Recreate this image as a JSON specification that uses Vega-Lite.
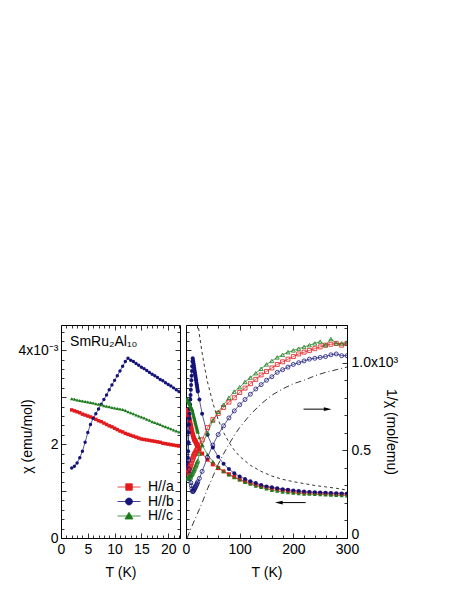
{
"$schema": "https://vega.github.io/schema/vega-lite/v6.json",
"background": "white",
"padding": {"left": 17, "top": 324, "right": 5, "bottom": 5},
"config": {
  "view": {"stroke": null},
  "font": "Liberation Sans",
  "axis": {"grid": false, "domainColor": "black", "domainWidth": 1, "tickColor": "black", "tickWidth": 0.8, "labelColor": "black", "titleColor": "black", "labelFont": "Liberation Sans", "titleFont": "Liberation Sans", "labelFontSize": 14, "titleFontSize": 14, "titleFontWeight": "normal", "labelFlush": false, "labelOverlap": false, "labelBound": false}
},
"datasets": {
  "chi": [
    {"T":2,"s":"H//a","chi":2.73},{"T":2.5,"s":"H//a","chi":2.71},{"T":3,"s":"H//a","chi":2.69},{"T":3.5,"s":"H//a","chi":2.67},{"T":4,"s":"H//a","chi":2.64},{"T":4.5,"s":"H//a","chi":2.62},{"T":5,"s":"H//a","chi":2.60},{"T":5.5,"s":"H//a","chi":2.58},{"T":6,"s":"H//a","chi":2.56},{"T":6.5,"s":"H//a","chi":2.53},{"T":7,"s":"H//a","chi":2.50},{"T":7.5,"s":"H//a","chi":2.48},{"T":8,"s":"H//a","chi":2.45},{"T":8.5,"s":"H//a","chi":2.42},{"T":9,"s":"H//a","chi":2.39},{"T":9.5,"s":"H//a","chi":2.37},{"T":10,"s":"H//a","chi":2.34},{"T":10.5,"s":"H//a","chi":2.31},{"T":11,"s":"H//a","chi":2.28},{"T":11.5,"s":"H//a","chi":2.26},{"T":12,"s":"H//a","chi":2.23},{"T":12.5,"s":"H//a","chi":2.21},{"T":13,"s":"H//a","chi":2.19},{"T":13.5,"s":"H//a","chi":2.17},{"T":14,"s":"H//a","chi":2.15},{"T":14.5,"s":"H//a","chi":2.13},{"T":15,"s":"H//a","chi":2.11},{"T":15.5,"s":"H//a","chi":2.10},{"T":16,"s":"H//a","chi":2.09},{"T":16.5,"s":"H//a","chi":2.08},{"T":17,"s":"H//a","chi":2.07},{"T":17.5,"s":"H//a","chi":2.06},{"T":18,"s":"H//a","chi":2.05},{"T":18.5,"s":"H//a","chi":2.04},{"T":19,"s":"H//a","chi":2.02},{"T":19.5,"s":"H//a","chi":2.01},{"T":20,"s":"H//a","chi":2.00},{"T":20.5,"s":"H//a","chi":1.99},{"T":21,"s":"H//a","chi":1.98},{"T":21.5,"s":"H//a","chi":1.97},{"T":22,"s":"H//a","chi":1.96},
    {"T":25,"s":"H//a","chi":1.89},{"T":30,"s":"H//a","chi":1.80},{"T":40,"s":"H//a","chi":1.67},{"T":50,"s":"H//a","chi":1.57},{"T":60,"s":"H//a","chi":1.49},{"T":70,"s":"H//a","chi":1.42},{"T":80,"s":"H//a","chi":1.36},{"T":90,"s":"H//a","chi":1.30},{"T":100,"s":"H//a","chi":1.25},{"T":110,"s":"H//a","chi":1.21},{"T":120,"s":"H//a","chi":1.17},{"T":130,"s":"H//a","chi":1.14},{"T":140,"s":"H//a","chi":1.11},{"T":150,"s":"H//a","chi":1.08},{"T":160,"s":"H//a","chi":1.06},{"T":170,"s":"H//a","chi":1.04},{"T":180,"s":"H//a","chi":1.02},{"T":190,"s":"H//a","chi":1.01},{"T":200,"s":"H//a","chi":0.99},{"T":210,"s":"H//a","chi":0.98},{"T":220,"s":"H//a","chi":0.97},{"T":230,"s":"H//a","chi":0.965},{"T":240,"s":"H//a","chi":0.96},{"T":250,"s":"H//a","chi":0.955},{"T":260,"s":"H//a","chi":0.95},{"T":270,"s":"H//a","chi":0.945},{"T":280,"s":"H//a","chi":0.94},{"T":290,"s":"H//a","chi":0.935},{"T":300,"s":"H//a","chi":0.93},
    {"T":2,"s":"H//b","chi":1.49},{"T":2.5,"s":"H//b","chi":1.53},{"T":3,"s":"H//b","chi":1.60},{"T":3.5,"s":"H//b","chi":1.71},{"T":4,"s":"H//b","chi":1.85},{"T":4.5,"s":"H//b","chi":2.04},{"T":5,"s":"H//b","chi":2.25},{"T":5.5,"s":"H//b","chi":2.42},{"T":6,"s":"H//b","chi":2.55},{"T":6.5,"s":"H//b","chi":2.65},{"T":7,"s":"H//b","chi":2.75},{"T":7.5,"s":"H//b","chi":2.85},{"T":8,"s":"H//b","chi":2.95},{"T":8.5,"s":"H//b","chi":3.05},{"T":9,"s":"H//b","chi":3.16},{"T":9.5,"s":"H//b","chi":3.26},{"T":10,"s":"H//b","chi":3.36},{"T":10.5,"s":"H//b","chi":3.46},{"T":11,"s":"H//b","chi":3.56},{"T":11.5,"s":"H//b","chi":3.66},{"T":12,"s":"H//b","chi":3.76},{"T":12.5,"s":"H//b","chi":3.83},{"T":13,"s":"H//b","chi":3.79},{"T":13.5,"s":"H//b","chi":3.76},{"T":14,"s":"H//b","chi":3.72},{"T":14.5,"s":"H//b","chi":3.68},{"T":15,"s":"H//b","chi":3.64},{"T":15.5,"s":"H//b","chi":3.61},{"T":16,"s":"H//b","chi":3.57},{"T":16.5,"s":"H//b","chi":3.53},{"T":17,"s":"H//b","chi":3.49},{"T":17.5,"s":"H//b","chi":3.46},{"T":18,"s":"H//b","chi":3.42},{"T":18.5,"s":"H//b","chi":3.38},{"T":19,"s":"H//b","chi":3.35},{"T":19.5,"s":"H//b","chi":3.31},{"T":20,"s":"H//b","chi":3.27},{"T":20.5,"s":"H//b","chi":3.24},{"T":21,"s":"H//b","chi":3.20},{"T":21.5,"s":"H//b","chi":3.16},{"T":22,"s":"H//b","chi":3.12},
    {"T":25,"s":"H//b","chi":2.95},{"T":30,"s":"H//b","chi":2.65},{"T":40,"s":"H//b","chi":2.20},{"T":50,"s":"H//b","chi":1.93},{"T":60,"s":"H//b","chi":1.73},{"T":70,"s":"H//b","chi":1.58},{"T":80,"s":"H//b","chi":1.47},{"T":90,"s":"H//b","chi":1.38},{"T":100,"s":"H//b","chi":1.31},{"T":110,"s":"H//b","chi":1.26},{"T":120,"s":"H//b","chi":1.21},{"T":130,"s":"H//b","chi":1.17},{"T":140,"s":"H//b","chi":1.13},{"T":150,"s":"H//b","chi":1.10},{"T":160,"s":"H//b","chi":1.08},{"T":170,"s":"H//b","chi":1.06},{"T":180,"s":"H//b","chi":1.04},{"T":190,"s":"H//b","chi":1.03},{"T":200,"s":"H//b","chi":1.01},{"T":210,"s":"H//b","chi":1.00},{"T":220,"s":"H//b","chi":0.99},{"T":230,"s":"H//b","chi":0.98},{"T":240,"s":"H//b","chi":0.975},{"T":250,"s":"H//b","chi":0.97},{"T":260,"s":"H//b","chi":0.965},{"T":270,"s":"H//b","chi":0.96},{"T":280,"s":"H//b","chi":0.955},{"T":290,"s":"H//b","chi":0.95},{"T":300,"s":"H//b","chi":0.95},
    {"T":2,"s":"H//c","chi":2.97},{"T":2.5,"s":"H//c","chi":2.96},{"T":3,"s":"H//c","chi":2.94},{"T":3.5,"s":"H//c","chi":2.93},{"T":4,"s":"H//c","chi":2.92},{"T":4.5,"s":"H//c","chi":2.91},{"T":5,"s":"H//c","chi":2.90},{"T":5.5,"s":"H//c","chi":2.89},{"T":6,"s":"H//c","chi":2.88},{"T":6.5,"s":"H//c","chi":2.86},{"T":7,"s":"H//c","chi":2.85},{"T":7.5,"s":"H//c","chi":2.84},{"T":8,"s":"H//c","chi":2.82},{"T":8.5,"s":"H//c","chi":2.81},{"T":9,"s":"H//c","chi":2.80},{"T":9.5,"s":"H//c","chi":2.78},{"T":10,"s":"H//c","chi":2.77},{"T":10.5,"s":"H//c","chi":2.76},{"T":11,"s":"H//c","chi":2.75},{"T":11.5,"s":"H//c","chi":2.74},{"T":12,"s":"H//c","chi":2.72},{"T":12.5,"s":"H//c","chi":2.69},{"T":13,"s":"H//c","chi":2.67},{"T":13.5,"s":"H//c","chi":2.65},{"T":14,"s":"H//c","chi":2.62},{"T":14.5,"s":"H//c","chi":2.60},{"T":15,"s":"H//c","chi":2.58},{"T":15.5,"s":"H//c","chi":2.56},{"T":16,"s":"H//c","chi":2.53},{"T":16.5,"s":"H//c","chi":2.51},{"T":17,"s":"H//c","chi":2.48},{"T":17.5,"s":"H//c","chi":2.46},{"T":18,"s":"H//c","chi":2.44},{"T":18.5,"s":"H//c","chi":2.42},{"T":19,"s":"H//c","chi":2.39},{"T":19.5,"s":"H//c","chi":2.37},{"T":20,"s":"H//c","chi":2.35},{"T":20.5,"s":"H//c","chi":2.33},{"T":21,"s":"H//c","chi":2.30},{"T":21.5,"s":"H//c","chi":2.28},{"T":22,"s":"H//c","chi":2.26},
    {"T":25,"s":"H//c","chi":2.14},{"T":30,"s":"H//c","chi":1.98},{"T":40,"s":"H//c","chi":1.78},{"T":50,"s":"H//c","chi":1.63},{"T":60,"s":"H//c","chi":1.51},{"T":70,"s":"H//c","chi":1.42},{"T":80,"s":"H//c","chi":1.35},{"T":90,"s":"H//c","chi":1.29},{"T":100,"s":"H//c","chi":1.24},{"T":110,"s":"H//c","chi":1.19},{"T":120,"s":"H//c","chi":1.15},{"T":130,"s":"H//c","chi":1.11},{"T":140,"s":"H//c","chi":1.08},{"T":150,"s":"H//c","chi":1.05},{"T":160,"s":"H//c","chi":1.02},{"T":170,"s":"H//c","chi":1.00},{"T":180,"s":"H//c","chi":0.98},{"T":190,"s":"H//c","chi":0.97},{"T":200,"s":"H//c","chi":0.96},{"T":210,"s":"H//c","chi":0.95},{"T":220,"s":"H//c","chi":0.94},{"T":230,"s":"H//c","chi":0.935},{"T":240,"s":"H//c","chi":0.93},{"T":250,"s":"H//c","chi":0.925},{"T":260,"s":"H//c","chi":0.92},{"T":270,"s":"H//c","chi":0.915},{"T":280,"s":"H//c","chi":0.91},{"T":290,"s":"H//c","chi":0.905},{"T":300,"s":"H//c","chi":0.90}
  ],
  "inv": [
    {"T":2,"s":"H//a","inv":0.366},{"T":3,"s":"H//a","inv":0.372},{"T":4,"s":"H//a","inv":0.379},{"T":5,"s":"H//a","inv":0.385},{"T":6,"s":"H//a","inv":0.391},{"T":7,"s":"H//a","inv":0.400},{"T":8,"s":"H//a","inv":0.408},{"T":9,"s":"H//a","inv":0.418},{"T":10,"s":"H//a","inv":0.427},{"T":11,"s":"H//a","inv":0.439},{"T":12,"s":"H//a","inv":0.448},{"T":13,"s":"H//a","inv":0.457},{"T":14,"s":"H//a","inv":0.465},{"T":15,"s":"H//a","inv":0.474},{"T":16,"s":"H//a","inv":0.478},{"T":17,"s":"H//a","inv":0.483},{"T":18,"s":"H//a","inv":0.488},{"T":19,"s":"H//a","inv":0.495},{"T":20,"s":"H//a","inv":0.500},{"T":21,"s":"H//a","inv":0.505},{"T":22,"s":"H//a","inv":0.510},
    {"T":25,"s":"H//a","inv":0.53},{"T":30,"s":"H//a","inv":0.56},{"T":40,"s":"H//a","inv":0.63},{"T":50,"s":"H//a","inv":0.675},{"T":60,"s":"H//a","inv":0.71},{"T":70,"s":"H//a","inv":0.745},{"T":80,"s":"H//a","inv":0.775},{"T":90,"s":"H//a","inv":0.80},{"T":100,"s":"H//a","inv":0.83},{"T":110,"s":"H//a","inv":0.855},{"T":120,"s":"H//a","inv":0.88},{"T":130,"s":"H//a","inv":0.905},{"T":140,"s":"H//a","inv":0.93},{"T":150,"s":"H//a","inv":0.95},{"T":160,"s":"H//a","inv":0.97},{"T":170,"s":"H//a","inv":0.99},{"T":180,"s":"H//a","inv":1.005},{"T":190,"s":"H//a","inv":1.02},{"T":200,"s":"H//a","inv":1.035},{"T":210,"s":"H//a","inv":1.05},{"T":220,"s":"H//a","inv":1.06},{"T":230,"s":"H//a","inv":1.07},{"T":240,"s":"H//a","inv":1.08},{"T":250,"s":"H//a","inv":1.09},{"T":260,"s":"H//a","inv":1.10},{"T":270,"s":"H//a","inv":1.105},{"T":280,"s":"H//a","inv":1.11},{"T":290,"s":"H//a","inv":1.10},{"T":300,"s":"H//a","inv":1.11},
    {"T":2,"s":"H//b","inv":0.671},{"T":3,"s":"H//b","inv":0.625},{"T":4,"s":"H//b","inv":0.541},{"T":5,"s":"H//b","inv":0.444},{"T":6,"s":"H//b","inv":0.392},{"T":7,"s":"H//b","inv":0.364},{"T":8,"s":"H//b","inv":0.339},{"T":9,"s":"H//b","inv":0.316},{"T":10,"s":"H//b","inv":0.298},{"T":11,"s":"H//b","inv":0.281},{"T":12,"s":"H//b","inv":0.266},{"T":13,"s":"H//b","inv":0.264},{"T":14,"s":"H//b","inv":0.269},{"T":15,"s":"H//b","inv":0.275},{"T":16,"s":"H//b","inv":0.280},{"T":17,"s":"H//b","inv":0.287},{"T":18,"s":"H//b","inv":0.292},{"T":19,"s":"H//b","inv":0.299},{"T":20,"s":"H//b","inv":0.306},{"T":21,"s":"H//b","inv":0.313},{"T":22,"s":"H//b","inv":0.321},
    {"T":25,"s":"H//b","inv":0.34},{"T":30,"s":"H//b","inv":0.38},{"T":40,"s":"H//b","inv":0.46},{"T":50,"s":"H//b","inv":0.53},{"T":60,"s":"H//b","inv":0.59},{"T":70,"s":"H//b","inv":0.64},{"T":80,"s":"H//b","inv":0.685},{"T":90,"s":"H//b","inv":0.725},{"T":100,"s":"H//b","inv":0.76},{"T":110,"s":"H//b","inv":0.79},{"T":120,"s":"H//b","inv":0.82},{"T":130,"s":"H//b","inv":0.85},{"T":140,"s":"H//b","inv":0.875},{"T":150,"s":"H//b","inv":0.90},{"T":160,"s":"H//b","inv":0.92},{"T":170,"s":"H//b","inv":0.945},{"T":180,"s":"H//b","inv":0.96},{"T":190,"s":"H//b","inv":0.975},{"T":200,"s":"H//b","inv":0.99},{"T":210,"s":"H//b","inv":1.00},{"T":220,"s":"H//b","inv":1.01},{"T":230,"s":"H//b","inv":1.02},{"T":240,"s":"H//b","inv":1.025},{"T":250,"s":"H//b","inv":1.03},{"T":260,"s":"H//b","inv":1.035},{"T":270,"s":"H//b","inv":1.045},{"T":280,"s":"H//b","inv":1.05},{"T":290,"s":"H//b","inv":1.04},{"T":300,"s":"H//b","inv":1.04},
    {"T":2,"s":"H//c","inv":0.337},{"T":3,"s":"H//c","inv":0.340},{"T":4,"s":"H//c","inv":0.342},{"T":5,"s":"H//c","inv":0.345},{"T":6,"s":"H//c","inv":0.347},{"T":7,"s":"H//c","inv":0.351},{"T":8,"s":"H//c","inv":0.355},{"T":9,"s":"H//c","inv":0.357},{"T":10,"s":"H//c","inv":0.361},{"T":11,"s":"H//c","inv":0.364},{"T":12,"s":"H//c","inv":0.368},{"T":13,"s":"H//c","inv":0.375},{"T":14,"s":"H//c","inv":0.382},{"T":15,"s":"H//c","inv":0.388},{"T":16,"s":"H//c","inv":0.395},{"T":17,"s":"H//c","inv":0.403},{"T":18,"s":"H//c","inv":0.410},{"T":19,"s":"H//c","inv":0.418},{"T":20,"s":"H//c","inv":0.426},{"T":21,"s":"H//c","inv":0.435},{"T":22,"s":"H//c","inv":0.442},
    {"T":25,"s":"H//c","inv":0.48},{"T":30,"s":"H//c","inv":0.53},{"T":40,"s":"H//c","inv":0.60},{"T":50,"s":"H//c","inv":0.67},{"T":60,"s":"H//c","inv":0.72},{"T":70,"s":"H//c","inv":0.76},{"T":80,"s":"H//c","inv":0.80},{"T":90,"s":"H//c","inv":0.835},{"T":100,"s":"H//c","inv":0.86},{"T":110,"s":"H//c","inv":0.89},{"T":120,"s":"H//c","inv":0.915},{"T":130,"s":"H//c","inv":0.94},{"T":140,"s":"H//c","inv":0.965},{"T":150,"s":"H//c","inv":0.99},{"T":160,"s":"H//c","inv":1.01},{"T":170,"s":"H//c","inv":1.03},{"T":180,"s":"H//c","inv":1.045},{"T":190,"s":"H//c","inv":1.06},{"T":200,"s":"H//c","inv":1.07},{"T":210,"s":"H//c","inv":1.08},{"T":220,"s":"H//c","inv":1.09},{"T":230,"s":"H//c","inv":1.10},{"T":240,"s":"H//c","inv":1.11},{"T":250,"s":"H//c","inv":1.12},{"T":260,"s":"H//c","inv":1.10},{"T":270,"s":"H//c","inv":1.135},{"T":280,"s":"H//c","inv":1.11},{"T":290,"s":"H//c","inv":1.11},{"T":300,"s":"H//c","inv":1.115}
  ],
  "fitchi": [
    {"T":22,"chi":4.60},{"T":25,"chi":4.33},{"T":30,"chi":3.95},{"T":35,"chi":3.62},{"T":40,"chi":3.33},{"T":50,"chi":2.88},{"T":60,"chi":2.52},{"T":70,"chi":2.25},{"T":80,"chi":2.04},{"T":90,"chi":1.87},{"T":100,"chi":1.74},{"T":120,"chi":1.55},{"T":140,"chi":1.42},{"T":160,"chi":1.32},{"T":180,"chi":1.25},{"T":200,"chi":1.20},{"T":220,"chi":1.16},{"T":240,"chi":1.12},{"T":260,"chi":1.09},{"T":280,"chi":1.06},{"T":300,"chi":1.02}
  ],
  "fitinv": [
    {"T":2,"inv":0.0},{"T":10,"inv":0.06},{"T":20,"inv":0.13},{"T":30,"inv":0.20},{"T":40,"inv":0.28},{"T":50,"inv":0.35},{"T":60,"inv":0.42},{"T":70,"inv":0.48},{"T":80,"inv":0.535},{"T":90,"inv":0.585},{"T":100,"inv":0.63},{"T":120,"inv":0.705},{"T":140,"inv":0.765},{"T":160,"inv":0.815},{"T":180,"inv":0.85},{"T":200,"inv":0.88},{"T":220,"inv":0.90},{"T":240,"inv":0.925},{"T":260,"inv":0.945},{"T":280,"inv":0.96},{"T":300,"inv":0.975}
  ],
  "arrowchi": [{"T": 223, "T2": 173, "chi": 0.755}],
  "arrowinv": [{"T": 219, "T2": 264, "inv": 0.735}],
  "label": [{"label": "SmRu₂Al₁₀"}]
},
"spacing": 6,
"bounds": "flush",
"hconcat": [
  {
    "width": 119, "height": 213,
    "resolve": {"axis": {"x": "independent", "y": "independent"}},
    "layer": [
      {
        "data": {"name": "chi"},
        "mark": {"type": "line", "strokeWidth": 0.7, "clip": true},
        "encoding": {
          "x": {"field": "T", "type": "quantitative", "scale": {"domain": [0, 22.2], "nice": false, "zero": false},
                "axis": {"orient": "bottom", "title": "T  (K)", "values": [0,5,10,15,20], "tickSize": -5, "labelPadding": 9, "titleY": 27, "titleBaseline": "top"}},
          "y": {"field": "chi", "type": "quantitative", "scale": {"domain": [0, 4.54], "nice": false},
                "axis": {"orient": "left", "title": "χ  (emu/mol)", "values": [0,1,2,3,4], "labelExpr": "datum.value === 4 ? '4x10⁻³' : datum.value === 2 ? '2' : datum.value === 0 ? '0' : ''", "tickSize": -5, "labelPadding": 8, "titleX": -30, "titleY": 111, "titleBaseline": "alphabetic"}},
          "color": {"field": "s", "type": "nominal", "scale": {"domain": ["H//a", "H//b", "H//c"], "range": ["#e31a1c", "#141478", "#1a7a1a"]}}
        }
      },
      {
        "data": {"name": "chi"},
        "mark": {"type": "point", "filled": true, "opacity": 1, "size": 12, "clip": true},
        "encoding": {
          "x": {"field": "T", "type": "quantitative",
                "axis": {"orient": "bottom", "title": null, "labels": false, "domain": false, "values": [1,2,3,4,6,7,8,9,11,12,13,14,16,17,18,19,21,22], "tickSize": -3}},
          "y": {"field": "chi", "type": "quantitative",
                "axis": {"orient": "left", "title": null, "labels": false, "domain": false, "values": [0.2,0.4,0.6,0.8,1.2,1.4,1.6,1.8,2.2,2.4,2.6,2.8,3.2,3.4,3.6,3.8,4.2,4.4], "tickSize": -3}},
          "color": {"field": "s", "type": "nominal",
                    "legend": {"orient": "none", "legendX": 61, "legendY": 155, "title": null, "padding": 0, "labelFont": "Liberation Sans", "labelFontSize": 14, "labelColor": "black", "symbolSize": 100, "labelOffset": 12, "rowPadding": 0.5,
                               "symbolType": {"expr": "datum.value === 'H//a' ? 'M-2.3,0H2.3M-0.65,-0.65H0.65V0.65H-0.65Z' : datum.value === 'H//b' ? 'M-2.3,0H2.3M0.7,0A0.7,0.7,0,1,1,-0.7,0A0.7,0.7,0,1,1,0.7,0Z' : 'M-2.3,0H2.3M0,-0.75L0.8,0.6H-0.8Z'"},
                               "symbolStrokeWidth": 0.8, "symbolOpacity": 1}},
          "shape": {"field": "s", "type": "nominal", "scale": {"range": ["square", "circle", "triangle-up"]}, "legend": null}
        }
      },
      {
        "data": {"name": "label"},
        "mark": {"type": "text", "align": "left", "baseline": "middle", "fontSize": 14, "font": "Liberation Sans", "color": "black"},
        "encoding": {
          "text": {"field": "label"},
          "x": {"datum": 1.7, "type": "quantitative",
                "axis": {"orient": "top", "title": null, "labels": false, "values": [0,5,10,15,20], "tickSize": -5}},
          "y": {"datum": 4.17, "type": "quantitative",
                "axis": {"orient": "right", "title": null, "labels": false, "values": [0,1,2,3,4], "tickSize": -5}}
        }
      },
      {
        "data": {"name": "label"},
        "mark": {"type": "point", "opacity": 0, "size": 1},
        "encoding": {
          "x": {"datum": 1.7, "type": "quantitative",
                "axis": {"orient": "top", "title": null, "labels": false, "domain": false, "values": [1,2,3,4,6,7,8,9,11,12,13,14,16,17,18,19,21,22], "tickSize": -3}},
          "y": {"datum": 4.17, "type": "quantitative",
                "axis": {"orient": "right", "title": null, "labels": false, "domain": false, "values": [0.2,0.4,0.6,0.8,1.2,1.4,1.6,1.8,2.2,2.4,2.6,2.8,3.2,3.4,3.6,3.8,4.2,4.4], "tickSize": -3}}
        }
      }
    ]
  },
  {
    "width": 161, "height": 213,
    "resolve": {"scale": {"y": "independent"}, "axis": {"x": "independent", "y": "independent"}},
    "layer": [
      {
        "data": {"name": "chi"},
        "mark": {"type": "line", "strokeWidth": 0.7, "clip": true},
        "encoding": {
          "x": {"field": "T", "type": "quantitative", "scale": {"domain": [0, 300], "nice": false, "zero": false},
                "axis": {"orient": "bottom", "title": "T  (K)", "values": [0,100,200,300], "tickSize": -5, "labelPadding": 9, "titleY": 27, "titleBaseline": "top"}},
          "y": {"field": "chi", "type": "quantitative", "scale": {"domain": [0, 4.54], "nice": false},
                "axis": {"orient": "left", "title": null, "labels": false, "values": [0,1,2,3,4], "tickSize": -5}},
          "color": {"field": "s", "type": "nominal", "legend": null}
        }
      },
      {
        "data": {"name": "chi"},
        "mark": {"type": "point", "filled": true, "opacity": 1, "size": 16, "clip": true},
        "encoding": {
          "x": {"field": "T", "type": "quantitative",
                "axis": {"orient": "bottom", "title": null, "labels": false, "domain": false, "values": [20,40,60,80,120,140,160,180,220,240,260,280], "tickSize": -3}},
          "y": {"field": "chi", "type": "quantitative", "scale": {"domain": [0, 4.54], "nice": false},
                "axis": {"orient": "left", "title": null, "labels": false, "domain": false, "values": [0.2,0.4,0.6,0.8,1.2,1.4,1.6,1.8,2.2,2.4,2.6,2.8,3.2,3.4,3.6,3.8,4.2,4.4], "tickSize": -3}},
          "color": {"field": "s", "type": "nominal", "legend": null},
          "shape": {"field": "s", "type": "nominal", "legend": null}
        }
      },
      {
        "data": {"name": "fitchi"},
        "mark": {"type": "line", "color": "black", "strokeWidth": 0.8, "strokeDash": [3, 3], "clip": true},
        "encoding": {
          "x": {"field": "T", "type": "quantitative",
                "axis": {"orient": "top", "title": null, "labels": false, "values": [0,100,200,300], "tickSize": -5}},
          "y": {"field": "chi", "type": "quantitative", "scale": {"domain": [0, 4.54], "nice": false}, "axis": null}
        }
      },
      {
        "data": {"name": "arrowchi"},
        "mark": {"type": "rule", "color": "black", "strokeWidth": 1},
        "encoding": {
          "x": {"field": "T", "type": "quantitative",
                "axis": {"orient": "top", "title": null, "labels": false, "domain": false, "values": [20,40,60,80,120,140,160,180,220,240,260,280], "tickSize": -3}},
          "x2": {"field": "T2"},
          "y": {"field": "chi", "type": "quantitative", "scale": {"domain": [0, 4.54], "nice": false}, "axis": null}
        }
      },
      {
        "data": {"name": "arrowchi"},
        "mark": {"type": "point", "shape": "M1,-0.5L-1,0L1,0.5Z", "filled": true, "color": "black", "opacity": 1, "size": 60},
        "encoding": {
          "x": {"field": "T2", "type": "quantitative", "axis": null},
          "y": {"field": "chi", "type": "quantitative", "scale": {"domain": [0, 4.54], "nice": false}, "axis": null}
        }
      },
      {
        "data": {"name": "inv"},
        "mark": {"type": "line", "strokeWidth": 0.7, "clip": true},
        "encoding": {
          "x": {"field": "T", "type": "quantitative", "axis": null},
          "y": {"field": "inv", "type": "quantitative", "scale": {"domain": [0, 1.215], "nice": false},
                "axis": {"orient": "right", "title": "1/χ  (mol/emu)", "values": [0.5,1], "labelExpr": "datum.value === 1 ? '1.0x10³' : '0.5'", "tickSize": -5, "labelPadding": 9, "titleX": 39, "titleBaseline": "alphabetic"}},
          "color": {"field": "s", "type": "nominal", "legend": null}
        }
      },
      {
        "data": {"name": "inv"},
        "mark": {"type": "point", "filled": false, "opacity": 1, "size": 16, "strokeWidth": 0.8, "clip": true},
        "encoding": {
          "x": {"field": "T", "type": "quantitative", "axis": null},
          "y": {"field": "inv", "type": "quantitative", "scale": {"domain": [0, 1.215], "nice": false},
                "axis": {"orient": "right", "title": null, "labels": false, "domain": false, "values": [0.1,0.2,0.3,0.4,0.6,0.7,0.8,0.9,1.1,1.2], "tickSize": -3}},
          "color": {"field": "s", "type": "nominal", "legend": null},
          "shape": {"field": "s", "type": "nominal", "legend": null}
        }
      },
      {
        "data": {"name": "fitinv"},
        "mark": {"type": "line", "color": "black", "strokeWidth": 0.8, "strokeDash": [6, 3, 1, 3], "clip": true},
        "encoding": {
          "x": {"field": "T", "type": "quantitative", "axis": null},
          "y": {"field": "inv", "type": "quantitative", "scale": {"domain": [0, 1.215], "nice": false},
                "axis": {"orient": "right", "title": null, "domain": false, "values": [0], "labelExpr": "'0'", "tickSize": -5, "labelPadding": 9, "labelOffset": -4}}
        }
      },
      {
        "data": {"name": "arrowinv"},
        "mark": {"type": "rule", "color": "black", "strokeWidth": 1},
        "encoding": {
          "x": {"field": "T", "type": "quantitative", "axis": null},
          "x2": {"field": "T2"},
          "y": {"field": "inv", "type": "quantitative", "scale": {"domain": [0, 1.215], "nice": false}, "axis": null}
        }
      },
      {
        "data": {"name": "arrowinv"},
        "mark": {"type": "point", "shape": "M-1,-0.5L1,0L-1,0.5Z", "filled": true, "color": "black", "opacity": 1, "size": 60},
        "encoding": {
          "x": {"field": "T2", "type": "quantitative", "axis": null},
          "y": {"field": "inv", "type": "quantitative", "scale": {"domain": [0, 1.215], "nice": false}, "axis": null}
        }
      }
    ]
  }
]
}
